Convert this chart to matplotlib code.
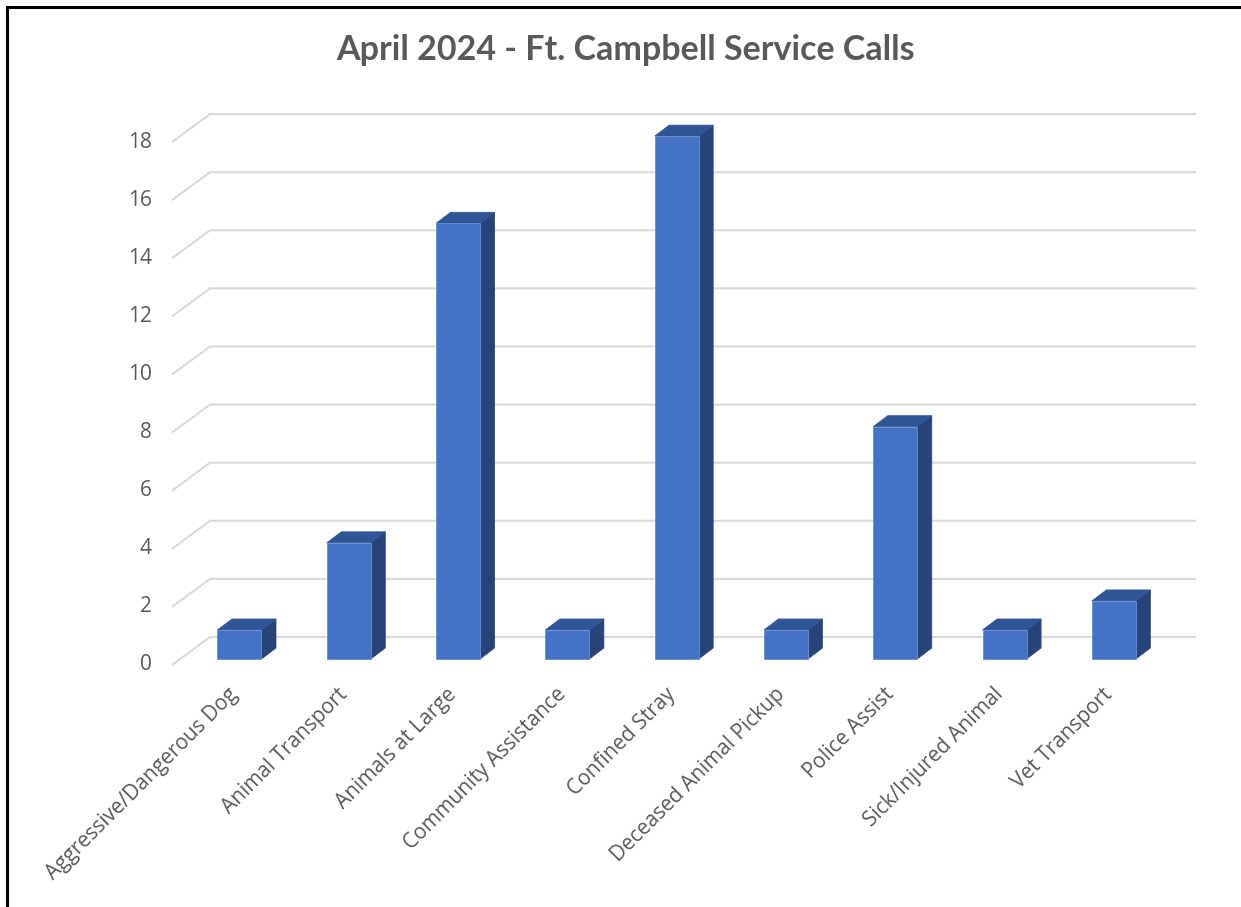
import matplotlib
matplotlib.use("Agg")
import matplotlib.pyplot as plt
from matplotlib.patches import Polygon, Rectangle
from matplotlib.lines import Line2D

# data
categories = ["Aggressive/Dangerous Dog", "Animal Transport", "Animals at Large",
              "Community Assistance", "Confined Stray", "Deceased Animal Pickup",
              "Police Assist", "Sick/Injured Animal", "Vet Transport"]
calls = [1, 4, 15, 1, 18, 1, 8, 1, 2]
y_ticks = [0, 2, 4, 6, 8, 10, 12, 14, 16, 18]
title = "April 2024 - Ft. Campbell Service Calls"

# pixel geometry of the reference (1241 x 907)
W, H = 1241, 907
px_cat = 109.3      # px per category
px_val = 29.05      # px per unit
x0_px, y0_px = 239.5, 659   # centre of first bar front face, base line

fig = plt.figure(figsize=(W / 100, H / 100), dpi=100)
ax_l, ax_r, ax_t, ax_b = 160, 1205, 95, 680
ax = fig.add_axes([ax_l / W, 1 - ax_b / H, (ax_r - ax_l) / W, (ax_b - ax_t) / H])
ax.set_xlim((ax_l - x0_px) / px_cat, (ax_r - x0_px) / px_cat)
ax.set_ylim((y0_px - ax_b) / px_val, (y0_px - ax_t) / px_val)
ax.set_axis_off()

# depth offsets (data units)
back_dy = 22 / px_val
front_dy = -6 / px_val
wall_left = (210 - x0_px) / px_cat
wall_right = (1196 - x0_px) / px_cat
floor_left = (172 - x0_px) / px_cat

grid_c = "#d9d9d9"
for v in y_ticks:
    ax.plot([floor_left, wall_left, wall_right], [v + front_dy, v + back_dy, v + back_dy],
            color=grid_c, lw=1.5, solid_capstyle="butt", zorder=1)
    ax.text((152 - x0_px) / px_cat, v + front_dy, str(v), ha="right", va="center",
            fontsize=15, color="#595959", family="Open Sans", clip_on=False)

# 3D-looking bars
bw = 44 / px_cat
sdx = 14.5 / px_cat
sdy = 11 / px_val
front_c, top_c, side_c = "#4472c4", "#2f5597", "#264478"
for i, v in enumerate(calls):
    xl, xr = i - bw / 2, i + bw / 2
    side = Polygon([(xr, 0), (xr + sdx, sdy), (xr + sdx, v + sdy), (xr, v)],
                   closed=True, facecolor=side_c, edgecolor=side_c, lw=0.5, zorder=3)
    top = Polygon([(xl, v), (xl + sdx, v + sdy), (xr + sdx, v + sdy), (xr, v)],
                  closed=True, facecolor=top_c, edgecolor=top_c, lw=0.5, zorder=3)
    front = Rectangle((xl, 0), bw, v, facecolor=front_c, edgecolor="#6a8fd4",
                      lw=0.6, zorder=4)
    ax.add_patch(side)
    ax.add_patch(top)
    ax.add_patch(front)

# category labels
for i, name in enumerate(categories):
    ax.text(i - 12 / px_cat, (y0_px - 684) / px_val, name, rotation=45,
            rotation_mode="anchor", ha="right", va="top", fontsize=15,
            color="#595959", family="Open Sans", clip_on=False)

fig.text(626 / W, 1 - 50 / H, title, ha="center", va="center", fontsize=24.5,
         fontweight="bold", color="#595959", family="Lato")

# black frame on top and left edges
fig.add_artist(Line2D([7 / W, 1], [1 - 7 / H, 1 - 7 / H], color="black", lw=2.2))
fig.add_artist(Line2D([7 / W, 7 / W], [0, 1 - 7 / H], color="black", lw=2.2))

fig.savefig("out.png", dpi=100, facecolor="white")
